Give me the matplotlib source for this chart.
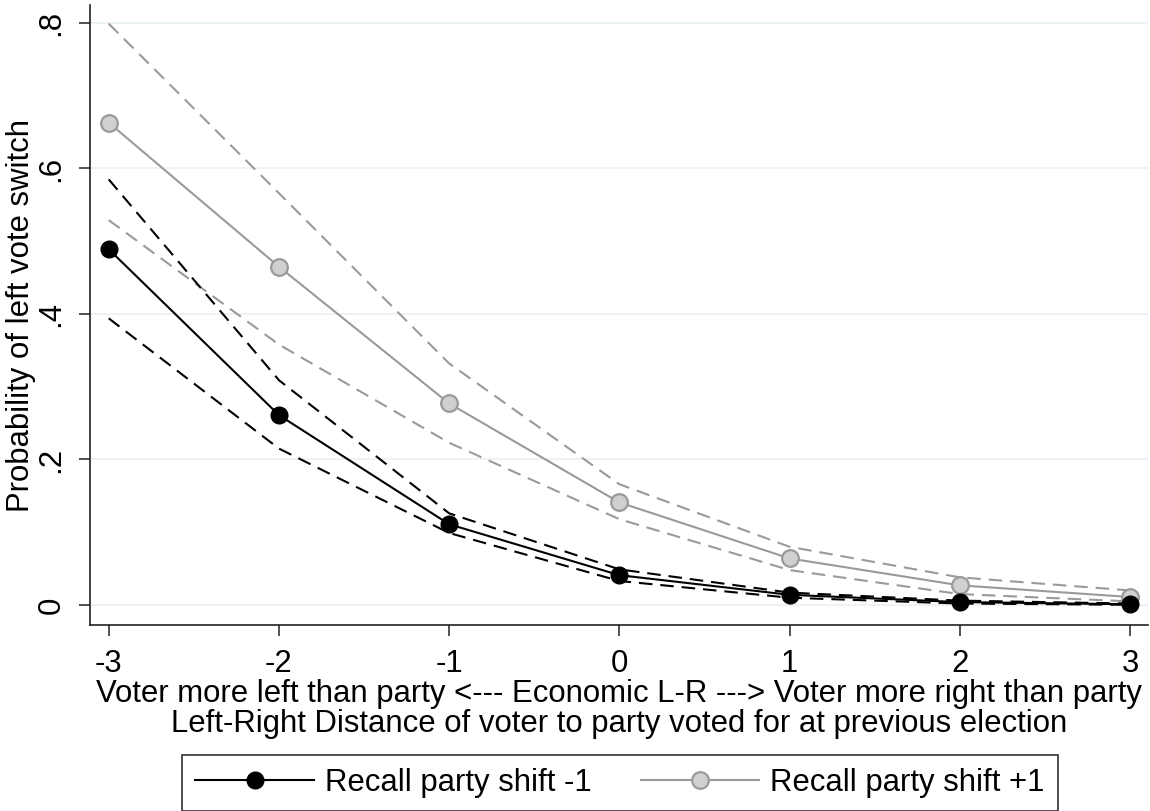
import matplotlib
matplotlib.use("Agg")
import matplotlib.pyplot as plt

# ---- data ----
x = [-3, -2, -1, 0, 1, 2, 3]
black_mean = [0.489, 0.261, 0.111, 0.041, 0.014, 0.004, 0.001]
black_hi = [0.585, 0.309, 0.126, 0.049, 0.017, 0.006, 0.002]
black_lo = [0.394, 0.215, 0.099, 0.033, 0.010, 0.002, 0.0003]
grey_mean = [0.663, 0.465, 0.277, 0.141, 0.064, 0.027, 0.011]
grey_hi = [0.799, 0.566, 0.332, 0.166, 0.080, 0.038, 0.020]
grey_lo = [0.529, 0.358, 0.223, 0.118, 0.048, 0.015, 0.005]
xticks = [-3, -2, -1, 0, 1, 2, 3]
yticks = [0, 0.2, 0.4, 0.6, 0.8]
ytick_labels = ["0", ".2", ".4", ".6", ".8"]
legend_labels = ["Recall party shift -1", "Recall party shift +1"]
xlabel = ("Voter more left than party <--- Economic L-R ---> Voter more right than party\n"
          "Left-Right Distance of voter to party voted for at previous election")
ylabel = "Probability of left vote switch"

plt.rcParams['font.family'] = ['Liberation Sans', 'DejaVu Sans']
FS = 22.4

fig = plt.figure(figsize=(11.5, 8.11), dpi=100)
ax = fig.add_axes([90/1150, 1-625/811, (1148-90)/1150, (625-5)/811])

GREY = '#9a9a9a'
GREY_FACE = '#d0d0d0'
lw = 1.5
dash = (6.5, 3.8)

ax.plot(x, black_hi, color='black', lw=lw, dashes=dash, zorder=3)
ax.plot(x, black_lo, color='black', lw=lw, dashes=dash, zorder=3)
ax.plot(x, grey_hi, color=GREY, lw=lw, dashes=dash, zorder=2)
ax.plot(x, grey_lo, color=GREY, lw=lw, dashes=dash, zorder=2)
l1, = ax.plot(x, black_mean, color='black', lw=lw, marker='o', ms=12,
              mfc='black', mec='black', zorder=5)
l2, = ax.plot(x, grey_mean, color=GREY, lw=lw, marker='o', ms=12,
              mfc=GREY_FACE, mec=GREY, mew=1.6, zorder=4)

ax.set_xlim(-3.11, 3.106)
ax.set_ylim(-0.0275, 0.8247)
ax.set_xticks(xticks)
ax.set_xticklabels([str(v) for v in xticks])
ax.set_yticks(yticks)
ax.set_yticklabels(ytick_labels, rotation=90, va='center')

for y in yticks:
    ax.axhline(y, color='#eaf2f3', lw=1.3, zorder=0)

for s in ['top', 'right']:
    ax.spines[s].set_visible(False)
for s in ['left', 'bottom']:
    ax.spines[s].set_color('#222222')
    ax.spines[s].set_linewidth(1.2)

ax.tick_params(axis='both', direction='out', length=8, width=1.1,
               color='#222222', labelsize=FS)
ax.tick_params(axis='x', pad=9)
ax.tick_params(axis='y', pad=9)

ax.set_xlabel(xlabel, fontsize=FS, labelpad=0, linespacing=1.0)
fig.text(21/1150, 1-315/811, ylabel, fontsize=FS, rotation=90,
         ha='center', va='center')

leg = fig.legend([l1, l2], legend_labels, loc='upper center',
                 bbox_to_anchor=(620/1150, 1-755/811), ncol=2, fontsize=FS,
                 frameon=True, fancybox=False, edgecolor='black',
                 handlelength=3.8, handletextpad=0.35, columnspacing=1.6,
                 borderpad=0.42, borderaxespad=0)
leg.get_frame().set_linewidth(1.2)

fig.savefig("out.png", dpi=100)
